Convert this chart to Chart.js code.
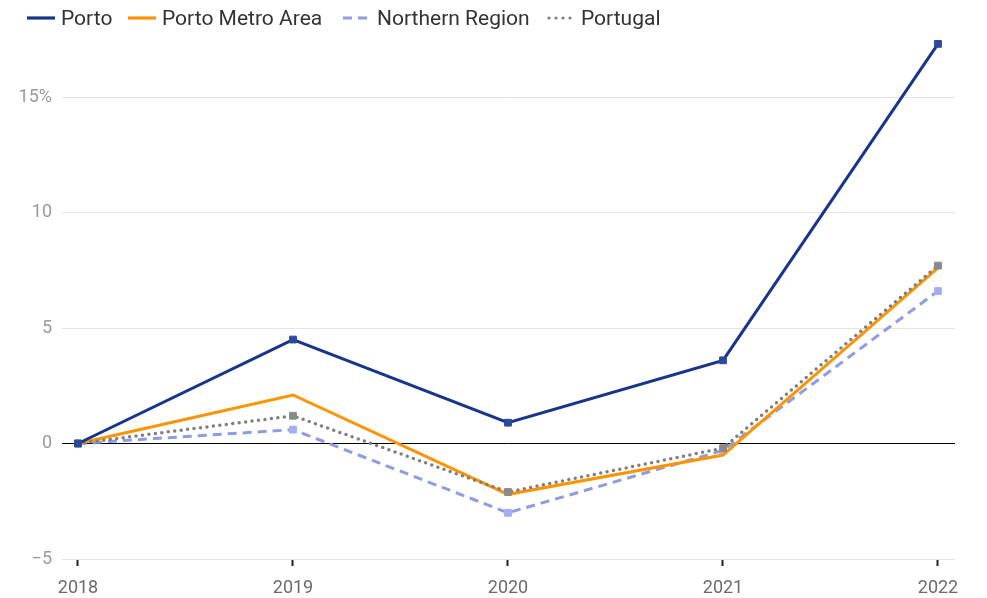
<!DOCTYPE html>
<html>
<head>
<meta charset="utf-8">
<script src="https://cdn.jsdelivr.net/npm/chart.js@4"></script>
<style>
  html, body { margin: 0; padding: 0; background: #fff; }
  #wrap { position: relative; width: 987px; height: 598px; overflow: hidden; }
  #c { position: absolute; left: 0; top: 0; }
  .lg { position: absolute; top: 6px; height: 24px; display: flex; align-items: center;
        font-family: Roboto, sans-serif; font-size: 21px; color: #333; white-space: nowrap; }
  .lg svg { margin-right: 6px; }
</style>
</head>
<body>
<div id="wrap">
  <canvas id="c" width="987" height="598"></canvas>
  <div id="legend"></div>
</div>
<script>
const years = [2018, 2019, 2020, 2021, 2022];
const porto = [0, 4.5, 0.9, 3.6, 17.3];
const portoMetro = [0, 2.1, -2.2, -0.5, 7.6];
const northern = [0, 0.6, -3.0, -0.3, 6.6];
const portugal = [0, 1.2, -2.1, -0.2, 7.7];
const yTicks = [-5, 0, 5, 10, 15];
const seriesNames = ['Porto', 'Porto Metro Area', 'Northern Region', 'Portugal'];

const toXY = arr => arr.map((v, i) => ({ x: years[i], y: v }));

const styles = [
  { color: '#17358a', point: '#2c4a9a', dash: [], cap: 'butt', width: 3, radius: 4.8, order: 0, svgDash: '' , legendLeft: 27 },
  { color: '#ff9400', point: '#ff9400', dash: [], cap: 'butt', width: 3, radius: 0, order: 2, svgDash: '', legendLeft: 128 },
  { color: '#8e9ce3', point: '#a3afec', dash: [9, 6], cap: 'butt', width: 3, radius: 4.8, order: 3, svgDash: '9 6', legendLeft: 343 },
  { color: '#7e7e7e', point: '#8a8a8a', dash: [0, 6.5], cap: 'round', width: 3.5, radius: 4.8, order: 1, svgDash: '0 7', legendLeft: 547 }
];
const seriesData = [porto, portoMetro, northern, portugal];

const datasets = seriesData.map((arr, i) => ({
  label: seriesNames[i],
  data: toXY(arr),
  borderColor: styles[i].color,
  backgroundColor: styles[i].point,
  borderWidth: styles[i].width,
  borderDash: styles[i].dash,
  borderCapStyle: styles[i].cap,
  pointStyle: 'rect',
  pointRadius: styles[i].radius,
  pointHoverRadius: styles[i].radius,
  pointBackgroundColor: styles[i].point,
  pointBorderColor: styles[i].point,
  pointBorderWidth: 1,
  tension: 0,
  fill: false,
  order: styles[i].order
}));

// HTML legend
const legendEl = document.getElementById('legend');
seriesNames.forEach((name, i) => {
  const s = styles[i];
  const div = document.createElement('div');
  div.className = 'lg';
  div.style.left = s.legendLeft + 'px';
  const cap = s.cap === 'round' ? 'round' : 'butt';
  const x1 = s.cap === 'round' ? 2 : 0;
  div.innerHTML = '<svg width="28" height="6"><line x1="' + x1 + '" y1="3" x2="28" y2="3" stroke="' + s.color +
    '" stroke-width="3.2" stroke-linecap="' + cap + '"' + (s.svgDash ? ' stroke-dasharray="' + s.svgDash + '"' : '') +
    '/></svg><span></span>';
  div.querySelector('span').textContent = name;
  legendEl.appendChild(div);
});

Chart.defaults.font.family = 'Roboto, sans-serif';

new Chart(document.getElementById('c'), {
  type: 'line',
  data: { datasets },
  options: {
    responsive: false,
    animation: false,
    devicePixelRatio: 1,
    layout: { padding: { top: 39.25, right: 32, bottom: 0, left: 0 } },
    plugins: { legend: { display: false }, tooltip: { enabled: false } },
    scales: {
      x: {
        type: 'linear',
        min: 2017.9256,
        max: 2022.0791,
        afterBuildTicks: axis => { axis.ticks = years.map(v => ({ value: v })); },
        afterFit: axis => { axis.height = 39; },
        border: { display: false },
        grid: { drawOnChartArea: false, drawTicks: true, tickLength: 7, tickColor: '#222', tickWidth: 2 },
        ticks: {
          color: '#6b6b6b',
          font: { size: 18 },
          padding: 12,
          autoSkip: false,
          maxRotation: 0,
          callback: v => String(v)
        }
      },
      y: {
        type: 'linear',
        min: -5,
        max: 17.5,
        afterBuildTicks: axis => { axis.ticks = yTicks.map(v => ({ value: v })); },
        afterFit: axis => { axis.width = 62; },
        border: { display: false },
        grid: {
          drawTicks: false,
          color: ctx => (ctx.tick && ctx.tick.value === 0) ? '#000000' : '#e4e4e4',
          lineWidth: 1
        },
        ticks: {
          color: '#9a9a9a',
          font: { size: 18 },
          padding: 10,
          callback: v => v === 15 ? '15%' : (v < 0 ? '\u2212' + Math.abs(v) : String(v))
        }
      }
    }
  }
});
</script>
</body>
</html>
